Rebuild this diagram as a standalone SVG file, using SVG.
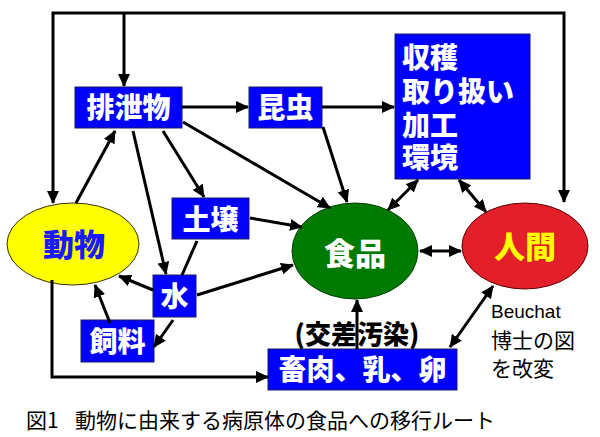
<svg xmlns="http://www.w3.org/2000/svg" width="600" height="437" viewBox="0 0 600 437">
<style>
.box{fill:#0000ff;stroke:#1a1a66;stroke-width:1}
.bt{font-family:"Noto Sans CJK JP","Noto Sans CJK SC",sans-serif;font-weight:900;font-size:28px;fill:#ffffff}
.et{font-family:"Noto Sans CJK JP","Noto Sans CJK SC",sans-serif;font-weight:900;font-size:31px;text-anchor:middle}
.c{fill:none;stroke:#000;stroke-width:3}
.a{marker-end:url(#ah)}
.b{marker-start:url(#ah);marker-end:url(#ah)}
.nt{font-family:"Noto Sans CJK JP","Noto Sans CJK SC",sans-serif;font-size:21px;fill:#000}
</style>
<defs>
<marker id="ah" markerUnits="userSpaceOnUse" markerWidth="13" markerHeight="12" refX="12" refY="6" orient="auto-start-reverse" viewBox="0 0 13 12">
<path d="M0,0 L13,6 L0,12 z" fill="#000"/>
</marker>
</defs>
<rect width="600" height="437" fill="#ffffff"/>

<g id="node-doubutsu">
<ellipse cx="73" cy="244" rx="66" ry="41" fill="#ffff00" stroke="#333300" stroke-width="1"/>
<text class="et" x="74" y="256" fill="#1a1aff">動物</text>
</g>
<g id="node-shokuhin">
<ellipse cx="355" cy="251" rx="63" ry="48" fill="#007a00" stroke="#004000" stroke-width="1"/>
<text class="et" x="355" y="265" fill="#ffffff">食品</text>
</g>
<g id="node-ningen">
<ellipse cx="525" cy="246" rx="63" ry="43" fill="#e3202a" stroke="#600000" stroke-width="1"/>
<text class="et" x="525" y="258" fill="#ffff00">人間</text>
</g>
<g id="node-haisetsubutsu">
<rect class="box" x="75" y="87" width="107" height="41"/>
<text class="bt" x="128.5" y="118" text-anchor="middle">排泄物</text>
</g>
<g id="node-konchu">
<rect class="box" x="249" y="87" width="73" height="41"/>
<text class="bt" x="285.5" y="118" text-anchor="middle">昆虫</text>
</g>
<g id="node-shukaku">
<rect class="box" x="395" y="34" width="135" height="145"/>
<text class="bt" font-size="27"><tspan x="402" y="68">収穫</tspan><tspan x="402" y="102">取り扱い</tspan><tspan x="402" y="136">加工</tspan><tspan x="402" y="168">環境</tspan></text>
</g>
<g id="node-dojo">
<rect class="box" x="172" y="198" width="77" height="41"/>
<text class="bt" x="210.5" y="230" text-anchor="middle">土壌</text>
</g>
<g id="node-mizu">
<rect class="box" x="153" y="275" width="43" height="42"/>
<text class="bt" x="174.5" y="307" text-anchor="middle">水</text>
</g>
<g id="node-shiryo">
<rect class="box" x="81" y="320" width="73" height="42"/>
<text class="bt" x="117.5" y="352" text-anchor="middle">飼料</text>
</g>
<g id="node-chikuniku">
<rect class="box" x="268" y="349" width="189" height="41"/>
<text class="bt" x="362.5" y="380" text-anchor="middle">畜肉、乳、卵</text>
</g>

<text x="357" y="344" text-anchor="middle" font-family="Noto Sans CJK JP, Noto Sans CJK SC, sans-serif" font-weight="900" font-size="26" fill="#000">(交差汚染)</text>

<g id="connectors">
<path class="c b" d="M53,203 V13 H564 V202"/>
<path class="c a" d="M124,13 V86"/>
<path class="c a" d="M76,203 L115,131"/>
<path class="c a" d="M182,107 L248,107"/>
<path class="c a" d="M322,107 L394,107"/>
<path class="c a" d="M163,131 L204,197"/>
<path class="c a" d="M183,122 L330,208"/>
<path class="c a" d="M133,131 L166,274"/>
<path class="c a" d="M323,127 L347,202"/>
<path class="c b" d="M418,180 L388,210"/>
<path class="c b" d="M459,180 L486,212"/>
<path class="c a" d="M250,218 L302,227"/>
<path class="c" d="M197,241 L182,275"/>
<path class="c a" d="M197,295 L293,265"/>
<path class="c a" d="M153,290 L119,276"/>
<path class="c a" d="M173,320 L154,347"/>
<path class="c a" d="M110,323 L95,285"/>
<path class="c a" d="M52,280 V377 H268"/>
<path class="c a" d="M357,349 V300"/>
<path class="c b" d="M450,347 L493,286"/>
<path class="c b" d="M420,251 H461"/>
</g>

<text x="491" y="318" font-family="Liberation Sans, Arial, sans-serif" font-size="19" fill="#000">Beuchat</text>
<text class="nt" x="491" y="348">博士の図</text>
<text class="nt" x="491" y="376">を改変</text>
<text class="nt" y="428"><tspan x="26">図1</tspan><tspan x="75">動物に由来する病原体の食品への移行ルート</tspan></text>
</svg>
